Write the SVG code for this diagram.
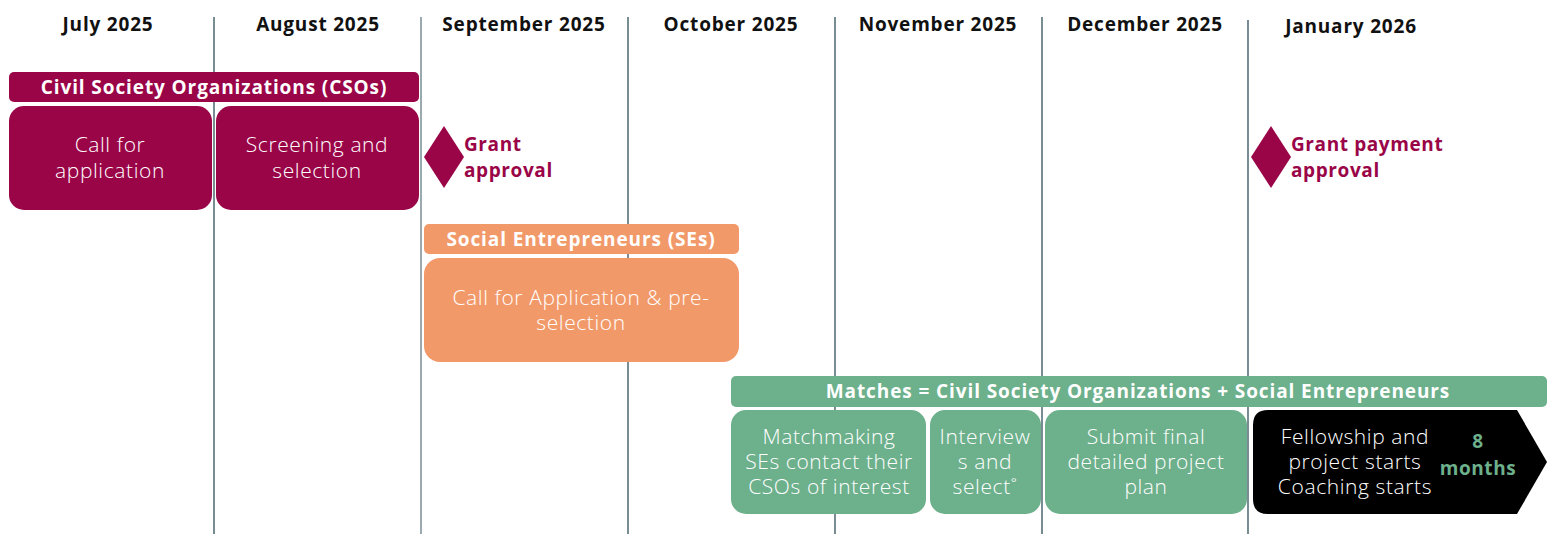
<svg xmlns="http://www.w3.org/2000/svg" width="1551" height="534" viewBox="0 0 1551 534">
<style>
.month{font-family:"Open Sans","Liberation Sans",sans-serif;font-weight:700;font-size:19px;letter-spacing:0.8px;fill:#111;text-anchor:middle}
.grid{stroke:#2f4f5a;stroke-width:1.3}
.hdr{font-family:"Open Sans","Liberation Sans",sans-serif;font-weight:700;font-size:19px;letter-spacing:0.9px;fill:#fff;text-anchor:middle}
.box{font-family:"Open Sans","Liberation Sans",sans-serif;font-weight:300;font-size:21px;letter-spacing:0.6px;fill:#fff;text-anchor:middle}
.ms{font-family:"Open Sans","Liberation Sans",sans-serif;font-weight:700;font-size:19px;letter-spacing:0.6px;fill:#9a0548}
.cso{fill:#9a0548}
.se{fill:#f2996a}
.mt{fill:#6db08c}
</style>
<g id="grid">
<line class="grid" x1="214" y1="17" x2="214" y2="534"/>
<line class="grid" x1="421" y1="17" x2="421" y2="534" stroke-opacity="0.75"/>
<line class="grid" x1="628" y1="17" x2="628" y2="534"/>
<line class="grid" x1="835" y1="17" x2="835" y2="534"/>
<line class="grid" x1="1042" y1="17" x2="1042" y2="534"/>
<line class="grid" x1="1248" y1="20" x2="1248" y2="534"/>
</g>
<g id="months">
<text class="month" x="108" y="31">July 2025</text>
<text class="month" x="318" y="31">August 2025</text>
<text class="month" x="524" y="31">September 2025</text>
<text class="month" x="731" y="31">October 2025</text>
<text class="month" x="938" y="31">November 2025</text>
<text class="month" x="1145" y="31">December 2025</text>
<text class="month" x="1351" y="33">January 2026</text>
</g>
<g id="cso-header"><rect class="cso" x="9" y="72" width="410" height="30" rx="5"/><text class="hdr" x="214" y="94">Civil Society Organizations (CSOs)</text></g>
<g id="cso-call"><rect class="cso" x="9" y="106" width="203" height="104" rx="15"/><text class="box" x="110" y="152">Call for</text><text class="box" x="110" y="178">application</text></g>
<g id="cso-screen"><rect class="cso" x="216" y="106" width="203" height="104" rx="15"/><text class="box" x="317" y="152">Screening and</text><text class="box" x="317" y="178">selection</text></g>
<g id="grant-approval"><polygon class="cso" points="444,126 464,157 444,188 424,157"/><text class="ms" x="464" y="151">Grant</text><text class="ms" x="464" y="177">approval</text></g>
<g id="se-header"><rect class="se" x="424" y="224" width="315" height="30" rx="5"/><text class="hdr" x="581" y="246">Social Entrepreneurs (SEs)</text></g>
<g id="se-call"><rect class="se" x="424" y="258" width="315" height="104" rx="16"/><text class="box" x="581" y="305">Call for Application &amp; pre-</text><text class="box" x="581" y="330">selection</text></g>
<g id="grant-payment"><polygon class="cso" points="1271,126 1291,157 1271,188 1251,157"/><text class="ms" x="1291" y="151">Grant payment</text><text class="ms" x="1291" y="177">approval</text></g>
<g id="matches-header"><rect class="mt" x="731" y="376" width="816" height="31" rx="5"/><text class="hdr" x="1138" y="398">Matches = Civil Society Organizations + Social Entrepreneurs</text></g>
<g id="matchmaking"><rect class="mt" x="731" y="410" width="195" height="104" rx="15"/><text class="box" x="829" y="444">Matchmaking</text><text class="box" x="829" y="469">SEs contact their</text><text class="box" x="829" y="494">CSOs of interest</text></g>
<g id="interviews"><rect class="mt" x="930" y="410" width="111" height="104" rx="15"/><text class="box" x="985" y="444">Interview</text><text class="box" x="985" y="469">s and</text><text class="box" x="985" y="494">select˚</text></g>
<g id="submit"><rect class="mt" x="1045" y="410" width="202" height="104" rx="15"/><text class="box" x="1146" y="444">Submit final</text><text class="box" x="1146" y="469">detailed project</text><text class="box" x="1146" y="494">plan</text></g>
<g id="fellowship"><path d="M1268,410 H1517 L1547,462 L1517,514 H1268 Q1253,514 1253,499 V425 Q1253,410 1268,410 Z" fill="#000"/><text class="box" x="1355" y="444">Fellowship and</text><text class="box" x="1355" y="469">project starts</text><text class="box" x="1355" y="494">Coaching starts</text><text class="ms" x="1478" y="448" text-anchor="middle" style="fill:#6db08c">8</text><text class="ms" x="1478" y="475" text-anchor="middle" style="fill:#6db08c">months</text></g>
</svg>
